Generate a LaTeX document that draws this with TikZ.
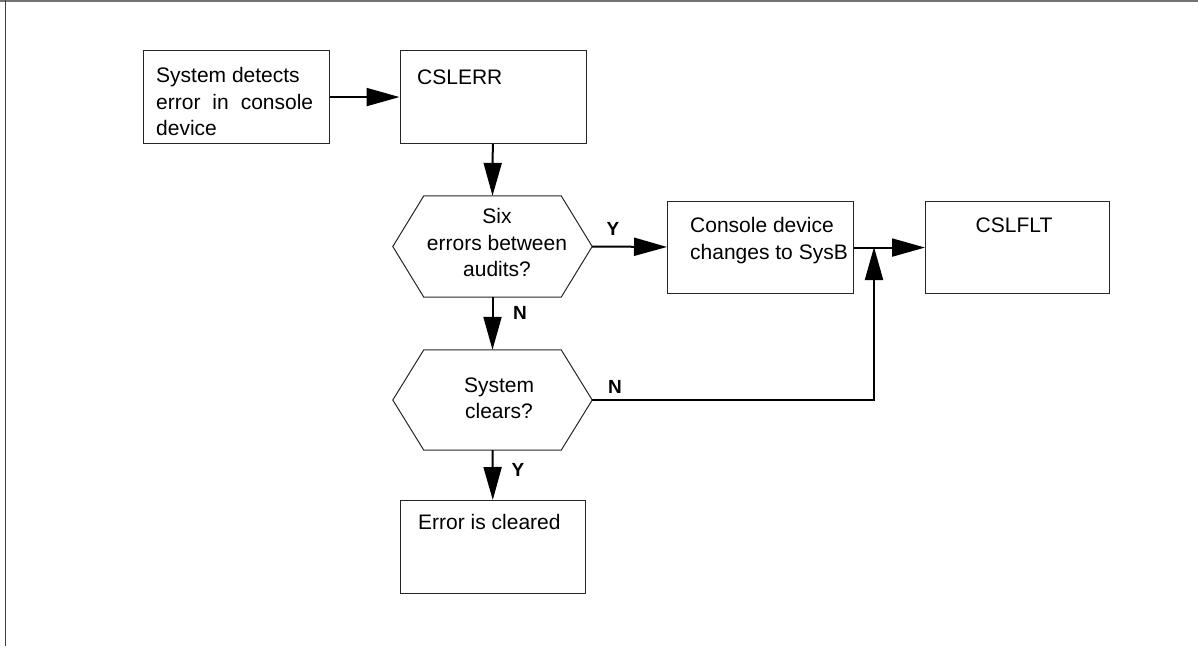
\documentclass[tikz,border=0pt]{standalone}
\usepackage{fontspec}
\setmainfont{Liberation Sans}
\usetikzlibrary{arrows.meta,calc}
\begin{document}
\begin{tikzpicture}[x=1pt,y=-1pt,
  boxshape/.style={draw=black!85, line width=1.1pt, inner sep=0pt, anchor=north west},
  hexhold/.style={inner sep=0pt, draw=none},
  hexline/.style={draw=black!85, line width=1pt, line join=miter},
  txt/.style={inner sep=0pt, font=\fontsize{21pt}{26.5pt}\selectfont},
  lbl/.style={inner sep=0pt, font=\bfseries\fontsize{19pt}{19pt}\selectfont},
  arr/.style={line width=2pt, -{Triangle[length=33pt,width=18pt]}},
  plain/.style={line width=2pt}
]
\useasboundingbox (0,0) rectangle (1198,646);
% frame
\draw[black!55, line width=2pt] (0,1) -- (1198,1);
\draw[black!75, line width=1.5pt] (5.5,0) -- (5.5,646);

% boxes
\node[boxshape, minimum width=186pt, minimum height=93pt] (b1) at (143,50) {};
\node[boxshape, minimum width=186pt, minimum height=93pt] (cslerr) at (399.5,50) {};
\node[boxshape, minimum width=186pt, minimum height=92pt] (cons) at (667,201) {};
\node[boxshape, minimum width=184pt, minimum height=92pt] (cslflt) at (925,201) {};
\node[boxshape, minimum width=185pt, minimum height=93pt] (err) at (400,500) {};

% decision hexagons
\node[hexhold, minimum width=199pt, minimum height=101pt] (d1) at (492.5,246.5) {};
\node[hexhold, minimum width=199pt, minimum height=100pt] (d2) at (492.5,400) {};
\foreach \d in {d1,d2}{
  \draw[hexline] (\d.west) -- ([xshift=31pt]\d.north west) -- ([xshift=-31pt]\d.north east)
    -- (\d.east) -- ([xshift=-31pt]\d.south east) -- ([xshift=31pt]\d.south west) -- cycle;
}

% texts
\node[txt, anchor=north west, align=left] (t1) at (156,67.5)
  {System detects\\\makebox[157pt][s]{error in console}\\device};
\node[txt, anchor=north west] (t2) at (417,70) {CSLERR};
\node[txt, anchor=north, align=center] (t3) at (497,208.5) {Six\\errors between\\audits?};
\node[txt, anchor=north west, align=left] (t4) at (690,217.5) {Console device\\changes to SysB};
\node[txt, anchor=north] (t5) at (1014,218) {CSLFLT};
\node[txt, anchor=north, align=center] (t6) at (499,377.5) {System\\clears?};
\node[txt, anchor=north west] (t7) at (418,514.5) {Error is cleared};

% connectors
\coordinate (j) at (874,247);
\draw[arr] (b1) -- (cslerr);
\draw[arr] (cslerr) -- (d1.north);
\draw[arr] (d1.east) -- (cons);
\draw[arr] (d1.south) -- (d2.north);
\draw[arr] (d2.south) -- (err);
\draw[arr] (cons) -- (cslflt);
\draw[arr] (d2.east) -| (j);

% branch labels
\node[lbl] (ly1) at (613,229) {Y};
\node[lbl] (ln1) at (520,313) {N};
\node[lbl] (ln2) at (615,387) {N};
\node[lbl] (ly2) at (518,470) {Y};
\end{tikzpicture}
\end{document}
